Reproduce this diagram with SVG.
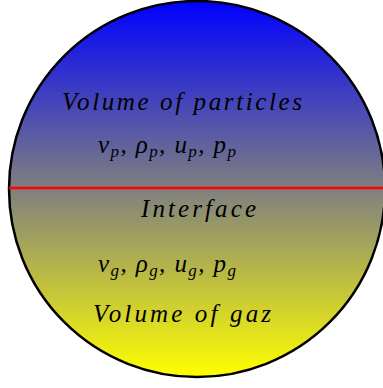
<svg xmlns="http://www.w3.org/2000/svg" width="383" height="388" viewBox="0 0 383 388">
<defs>
<linearGradient id="g" x1="0" y1="0" x2="0" y2="1">
<stop offset="0" stop-color="#0000ff"/>
<stop offset="1" stop-color="#ffff00"/>
</linearGradient>
<style>
.t{font-family:"Liberation Serif","Times New Roman",serif;font-style:italic;font-size:25px;fill:#000}
.s{font-size:17px}
</style>
</defs>
<g id="sphere">
<circle cx="197" cy="189" r="188" fill="url(#g)" stroke="#000" stroke-width="2.5"/>
</g>
<g id="connectors">
<line x1="9" y1="188" x2="383" y2="188" stroke="#ff0000" stroke-width="2.5"/>
</g>
<g id="particles">
<text class="t" x="62" y="110" textLength="240" lengthAdjust="spacing">Volume of particles</text>
<text class="t" x="98" y="153" textLength="138" lengthAdjust="spacing">v<tspan class="s" dy="4">p</tspan><tspan dy="-4">, ρ</tspan><tspan class="s" dy="4">p</tspan><tspan dy="-4">, u</tspan><tspan class="s" dy="4">p</tspan><tspan dy="-4">, p</tspan><tspan class="s" dy="4">p</tspan></text>
</g>
<g id="interface">
<text class="t" x="141" y="217" textLength="115" lengthAdjust="spacing">Interface</text>
</g>
<g id="gaz">
<text class="t" x="98" y="272" textLength="138" lengthAdjust="spacing">v<tspan class="s" dy="4">g</tspan><tspan dy="-4">, ρ</tspan><tspan class="s" dy="4">g</tspan><tspan dy="-4">, u</tspan><tspan class="s" dy="4">g</tspan><tspan dy="-4">, p</tspan><tspan class="s" dy="4">g</tspan></text>
<text class="t" x="93" y="322" textLength="178" lengthAdjust="spacing">Volume of gaz</text>
</g>
</svg>
